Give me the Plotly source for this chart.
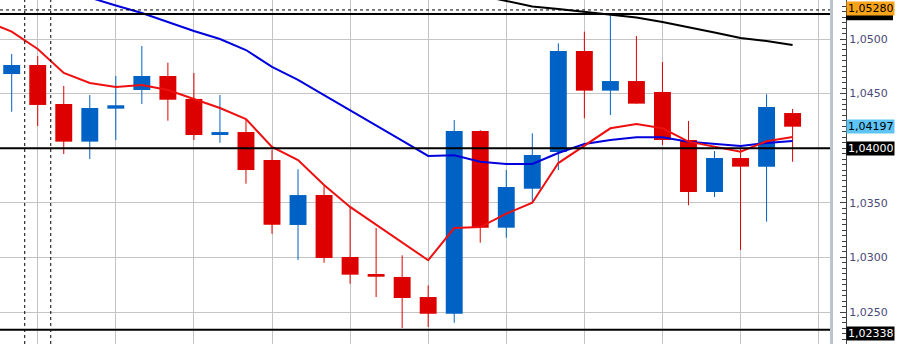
import plotly.graph_objects as go

# ---------------- data ----------------
idx = list(range(31))
opens = [1.04679, 1.04762, 1.04405, 1.04060, 1.04362, 1.04533, 1.04661, 1.04451, 1.04121, 1.04148,
         1.03892, 1.03297, 1.03571, 1.03004, 1.02848, 1.02821, 1.02637, 1.02484, 1.04158, 1.03272,
         1.03629, 1.03965, 1.04890, 1.04527, 1.04615, 1.04515, 1.04075, 1.03599, 1.03910, 1.03831,
         1.04322]
highs = [1.04863, 1.04844, 1.04570, 1.04487, 1.04661, 1.04936, 1.04783, 1.04689, 1.04487, 1.04258,
         1.03984, 1.03807, 1.03654, 1.03462, 1.03269, 1.03019, 1.02744, 1.04258, 1.04165, 1.03800,
         1.04136, 1.04961, 1.05067, 1.05220, 1.05027, 1.04789, 1.04249, 1.03974, 1.04000, 1.04494,
         1.04359]
lows = [1.04334, 1.04203, 1.03947, 1.03901, 1.04075, 1.04405, 1.04252, 1.04075, 1.04050, 1.03675,
        1.03217, 1.02976, 1.02951, 1.02759, 1.02637, 1.02353, 1.02363, 1.02402, 1.03135, 1.03180,
        1.03507, 1.03800, 1.04274, 1.04304, 1.04408, 1.04029, 1.03477, 1.03553, 1.03068, 1.03327,
        1.03876]
closes = [1.04762, 1.04396, 1.04060, 1.04368, 1.04393, 1.04661, 1.04444, 1.04121, 1.04148, 1.03800,
          1.03299, 1.03571, 1.02995, 1.02842, 1.02823, 1.02628, 1.02484, 1.04158, 1.03272, 1.03645,
          1.03938, 1.04890, 1.04527, 1.04615, 1.04408, 1.04075, 1.03599, 1.03910, 1.03831, 1.04377,
          1.04197]

ma_idx = list(range(-1, 31))
ma_fast = [1.05165, 1.05067, 1.04908, 1.04689, 1.04597, 1.04560, 1.04579, 1.04533, 1.04451, 1.04368,
           1.04267, 1.04011, 1.03892, 1.03663, 1.03462, 1.03297, 1.03136, 1.02974, 1.03269, 1.03278,
           1.03400, 1.03501, 1.03864, 1.04023, 1.04182, 1.04222, 1.04182, 1.04060, 1.04014, 1.03968,
           1.04064, 1.04103]
ma_mid = [1.05668, 1.05595, 1.05522, 1.05449, 1.05380, 1.05307, 1.05238, 1.05156, 1.05073, 1.05000,
          1.04899, 1.04744, 1.04625, 1.04487, 1.04350, 1.04210, 1.04069, 1.03929, 1.03935, 1.03876,
          1.03855, 1.03855, 1.03956, 1.04038, 1.04075, 1.04100, 1.04100, 1.04060, 1.04038, 1.04020,
          1.04048, 1.04066]
ma_slow_idx = list(range(18, 31))
ma_slow = [1.05398, 1.05350, 1.05298, 1.05275, 1.05247, 1.05224, 1.05197, 1.05156, 1.05110, 1.05060,
           1.05009, 1.04982, 1.04945]

solid_levels = [1.05229, 1.04000, 1.02338]
dashed_level = 1.05266
separators_x = [0.5, 1.5]

axis_tick_vals = [1.025, 1.030, 1.035, 1.045, 1.050]   # 1,0400 is hidden under its price box
hidden_box_level = 1.05229                              # black box mostly covered by the orange one

price_labels = ["1,05280", "1,04197", "1,04000", "1,02338"]
price_label_y = [1.05280, 1.04197, 1.04000, 1.02300]
price_label_bg = ["#f9a31a", "#5ec4f6", "#000000", "#000000"]
price_label_fg = ["#000000", "#000000", "#ffffff", "#ffffff"]

# ---------------- styling ----------------
UP = "#0062c4"
DOWN = "#dd0000"
W, H = 903, 344
PLOT_R = 832          # right edge of plot area in px
AXIS_X = 846          # y-axis line in px
dom_r = PLOT_R / AXIS_X

fig = go.Figure()

# wicks
for col, cond in ((UP, True), (DOWN, False)):
    wx, wy = [], []
    for i, o, h, l, c in zip(idx, opens, highs, lows, closes):
        if (c >= o) == cond:
            wx += [i, i, None]
            wy += [l, h, None]
    fig.add_trace(go.Scatter(x=wx, y=wy, mode="lines", line=dict(color=col, width=1),
                             hoverinfo="skip", showlegend=False))

# bodies
base = [min(o, c) for o, c in zip(opens, closes)]
hgt = [max(abs(c - o), 0.00002) for o, c in zip(opens, closes)]
cols = [UP if c >= o else DOWN for o, c in zip(opens, closes)]
fig.add_trace(go.Bar(x=idx, y=hgt, base=base, width=0.65, marker=dict(color=cols, line=dict(width=0)),
                     showlegend=False, hoverinfo="skip"))

# moving averages
fig.add_trace(go.Scatter(x=ma_slow_idx, y=ma_slow, mode="lines", line=dict(color="#000000", width=2),
                         showlegend=False, hoverinfo="skip"))
fig.add_trace(go.Scatter(x=ma_idx, y=ma_mid, mode="lines", line=dict(color="#0000dd", width=2),
                         showlegend=False, hoverinfo="skip"))
fig.add_trace(go.Scatter(x=ma_idx, y=ma_fast, mode="lines", line=dict(color="#ee1010", width=2),
                         showlegend=False, hoverinfo="skip"))

shapes = []
for lv in solid_levels:
    shapes.append(dict(type="line", xref="paper", yref="y", x0=0, x1=dom_r, y0=lv, y1=lv,
                       line=dict(color="#000000", width=2), layer="above"))
shapes.append(dict(type="line", xref="paper", yref="y", x0=0, x1=dom_r, y0=dashed_level, y1=dashed_level,
                   line=dict(color="#000000", width=1, dash="3px,3px"), layer="above"))
for sx in separators_x:
    shapes.append(dict(type="line", xref="x", yref="paper", x0=sx, x1=sx, y0=0, y1=1,
                       line=dict(color="#000000", width=1, dash="3px,3px"), layer="above"))
# plot border on the right
shapes.append(dict(type="line", xref="paper", yref="paper", x0=(PLOT_R - 0.5) / AXIS_X, x1=(PLOT_R - 0.5) / AXIS_X,
                   y0=0, y1=1, line=dict(color="#bcc4cc", width=3), layer="above"))
# black price box of the 1.0523 level (its text is covered in the original)
shapes.append(dict(type="rect", xref="paper", yref="y", x0=1.0, x1=893 / AXIS_X,
                   y0=hidden_box_level - 0.00058, y1=hidden_box_level + 0.00058,
                   fillcolor="#000000", line=dict(width=0), layer="above"))

annotations = []
for txt, yv, bg, fg in zip(price_labels, price_label_y, price_label_bg, price_label_fg):
    annotations.append(dict(text=txt, x=1, xref="paper", xanchor="left", y=yv, yref="y", yanchor="middle",
                            showarrow=False, bgcolor=bg, width=45, height=11, borderpad=1, align="left",
                            font=dict(family="DejaVu Sans", size=11, color=fg)))

fig.update_layout(
    width=W, height=H,
    margin=dict(l=0, r=W - AXIS_X, t=0, b=0, pad=0),
    plot_bgcolor="#ffffff", paper_bgcolor="#ffffff",
    separators=",.",
    barmode="overlay",
    showlegend=False,
    shapes=shapes,
    annotations=annotations,
    xaxis=dict(domain=[0, dom_r], range=[-11.7 / 26.03, (PLOT_R - 11.7) / 26.03],
               tickmode="linear", tick0=1, dtick=3, showgrid=True, gridcolor="#c4c4c4", gridwidth=1,
               showticklabels=False, ticks="", zeroline=False, showline=False, fixedrange=True),
    yaxis=dict(side="right", anchor="free", position=1.0,
               range=[1.022070, 1.053571], tickmode="array", tickvals=axis_tick_vals,
               tickformat=".4f", showgrid=True, gridcolor="#c4c4c4", gridwidth=1, zeroline=False,
               ticks="inside", ticklen=6, tickcolor="#404040", tickwidth=1,
               showline=True, linecolor="#404040", linewidth=1,
               tickfont=dict(family="DejaVu Sans", size=11, color="#4a4a78"),
               minor=dict(ticks="inside", ticklen=4, tickmode="linear", tick0=1.0, dtick=0.0005,
                          tickcolor="#404040", showgrid=False),
               fixedrange=True),
)

fig.write_html("out.html")
